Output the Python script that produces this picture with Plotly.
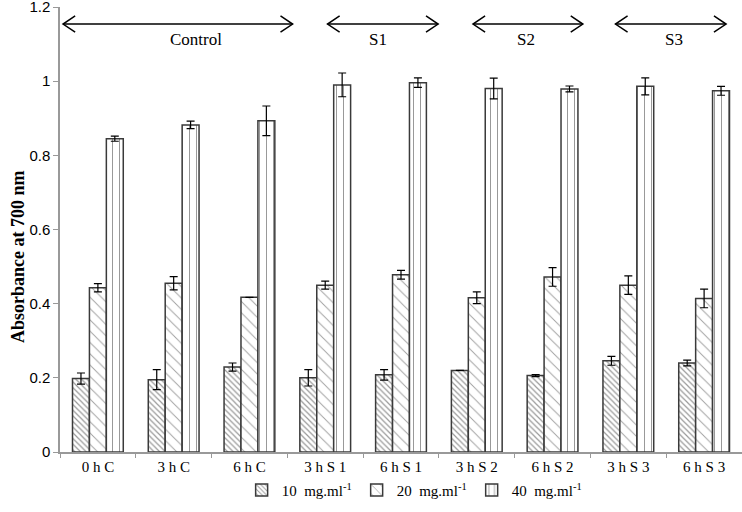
import plotly.graph_objects as go

categories = ["0 h C", "3 h C", "6 h C", "3 h S 1", "6 h S 1", "3 h S 2", "6 h S 2", "3 h S 3", "6 h S 3"]
series_names = ["10  mg.ml<sup>-1</sup>", "20  mg.ml<sup>-1</sup>", "40  mg.ml<sup>-1</sup>"]
vals_10 = [0.198, 0.195, 0.229, 0.200, 0.208, 0.220, 0.206, 0.246, 0.240]
err_10 = [0.015, 0.027, 0.011, 0.022, 0.014, 0.0, 0.003, 0.012, 0.008]
vals_20 = [0.443, 0.455, 0.417, 0.450, 0.478, 0.416, 0.472, 0.450, 0.414]
err_20 = [0.011, 0.018, 0.0, 0.011, 0.012, 0.016, 0.025, 0.025, 0.025]
vals_40 = [0.845, 0.882, 0.893, 0.990, 0.996, 0.980, 0.979, 0.986, 0.974]
err_40 = [0.007, 0.010, 0.040, 0.032, 0.013, 0.028, 0.008, 0.023, 0.012]

group_labels = ["Control", "S1", "S2", "S3"]
group_start = [-0.46, 3.03, 4.95, 6.83]
group_end = [2.57, 4.49, 6.40, 8.29]
group_label_x = [1.3, 3.7, 5.65, 7.6]

SERIF = "Liberation Serif"
patterns = [dict(shape="\\", size=4, solidity=0.3, fgcolor="#333333"),
            dict(shape="\\", size=8, solidity=0.12, fgcolor="#444444"),
            dict(shape="|", size=7, solidity=0.15, fgcolor="#333333")]
values = [vals_10, vals_20, vals_40]
errors = [err_10, err_20, err_40]

fig = go.Figure()
for name, v, e, p in zip(series_names, values, errors, patterns):
    fig.add_trace(go.Bar(
        x=categories, y=v, name=name,
        marker=dict(color="white", pattern=p, line=dict(color="#3a3a3a", width=1.5)),
        error_y=dict(type="data", array=e, color="black", thickness=1.2, width=4),
    ))

shapes = []
annotations = []
arrow_y = 1.154
dx, dy = 0.16, 0.022
for lab, s, e, lx in zip(group_labels, group_start, group_end, group_label_x):
    shapes.append(dict(type="line", xref="x", yref="y", x0=s, x1=e, y0=arrow_y, y1=arrow_y,
                       line=dict(color="black", width=1.5)))
    shapes.append(dict(type="path", xref="x", yref="y",
                       path=f"M {s+dx},{arrow_y+dy} L {s},{arrow_y} L {s+dx},{arrow_y-dy}",
                       line=dict(color="black", width=1.5)))
    shapes.append(dict(type="path", xref="x", yref="y",
                       path=f"M {e-dx},{arrow_y+dy} L {e},{arrow_y} L {e-dx},{arrow_y-dy}",
                       line=dict(color="black", width=1.5)))
    annotations.append(dict(x=lx, y=1.113, xref="x", yref="y", text=lab, showarrow=False,
                            font=dict(family=SERIF, size=17, color="black")))

annotations.append(dict(x=-0.062, y=0.44, xref="paper", yref="paper", text="<b>Absorbance at 700 nm</b>",
                        showarrow=False, textangle=-90, xanchor="center", yanchor="middle",
                        font=dict(family=SERIF, size=18, color="black")))

fig.update_layout(
    width=742, height=512,
    margin=dict(l=60, r=0, t=7, b=60, autoexpand=False),
    paper_bgcolor="white", plot_bgcolor="white",
    barmode="group", bargap=0.33, bargroupgap=0,
    showlegend=True,
    legend=dict(orientation="h", x=0.52, xanchor="center", y=-0.086, yanchor="middle",
                bgcolor="rgba(0,0,0,0)",
                font=dict(family=SERIF, size=15, color="black"), itemwidth=30,
                tracegroupgap=0),
    shapes=shapes, annotations=annotations,
    xaxis=dict(showline=True, linecolor="#999999", linewidth=1.5, ticks="outside",
               tickson="boundaries", ticklen=4, tickcolor="#999999", automargin=False,
               tickfont=dict(family=SERIF, size=15, color="black"), showgrid=False),
    yaxis=dict(range=[0, 1.2], tickvals=[0, 0.2, 0.4, 0.6, 0.8, 1, 1.2],
               ticktext=["0", "0.2", "0.4", "0.6", "0.8", "1", "1.2"], automargin=False,
               ticklabeloverflow="allow",
               showline=True, linecolor="#999999", linewidth=1.5, ticks="outside",
               ticklen=5, tickcolor="#999999", showgrid=False, zeroline=False,
               tickfont=dict(family="Liberation Sans", size=15, color="black")),
)

fig.write_html("out.html", config={"displayModeBar": False},
               post_script="document.body.style.margin='0';document.body.style.overflow='hidden';")
